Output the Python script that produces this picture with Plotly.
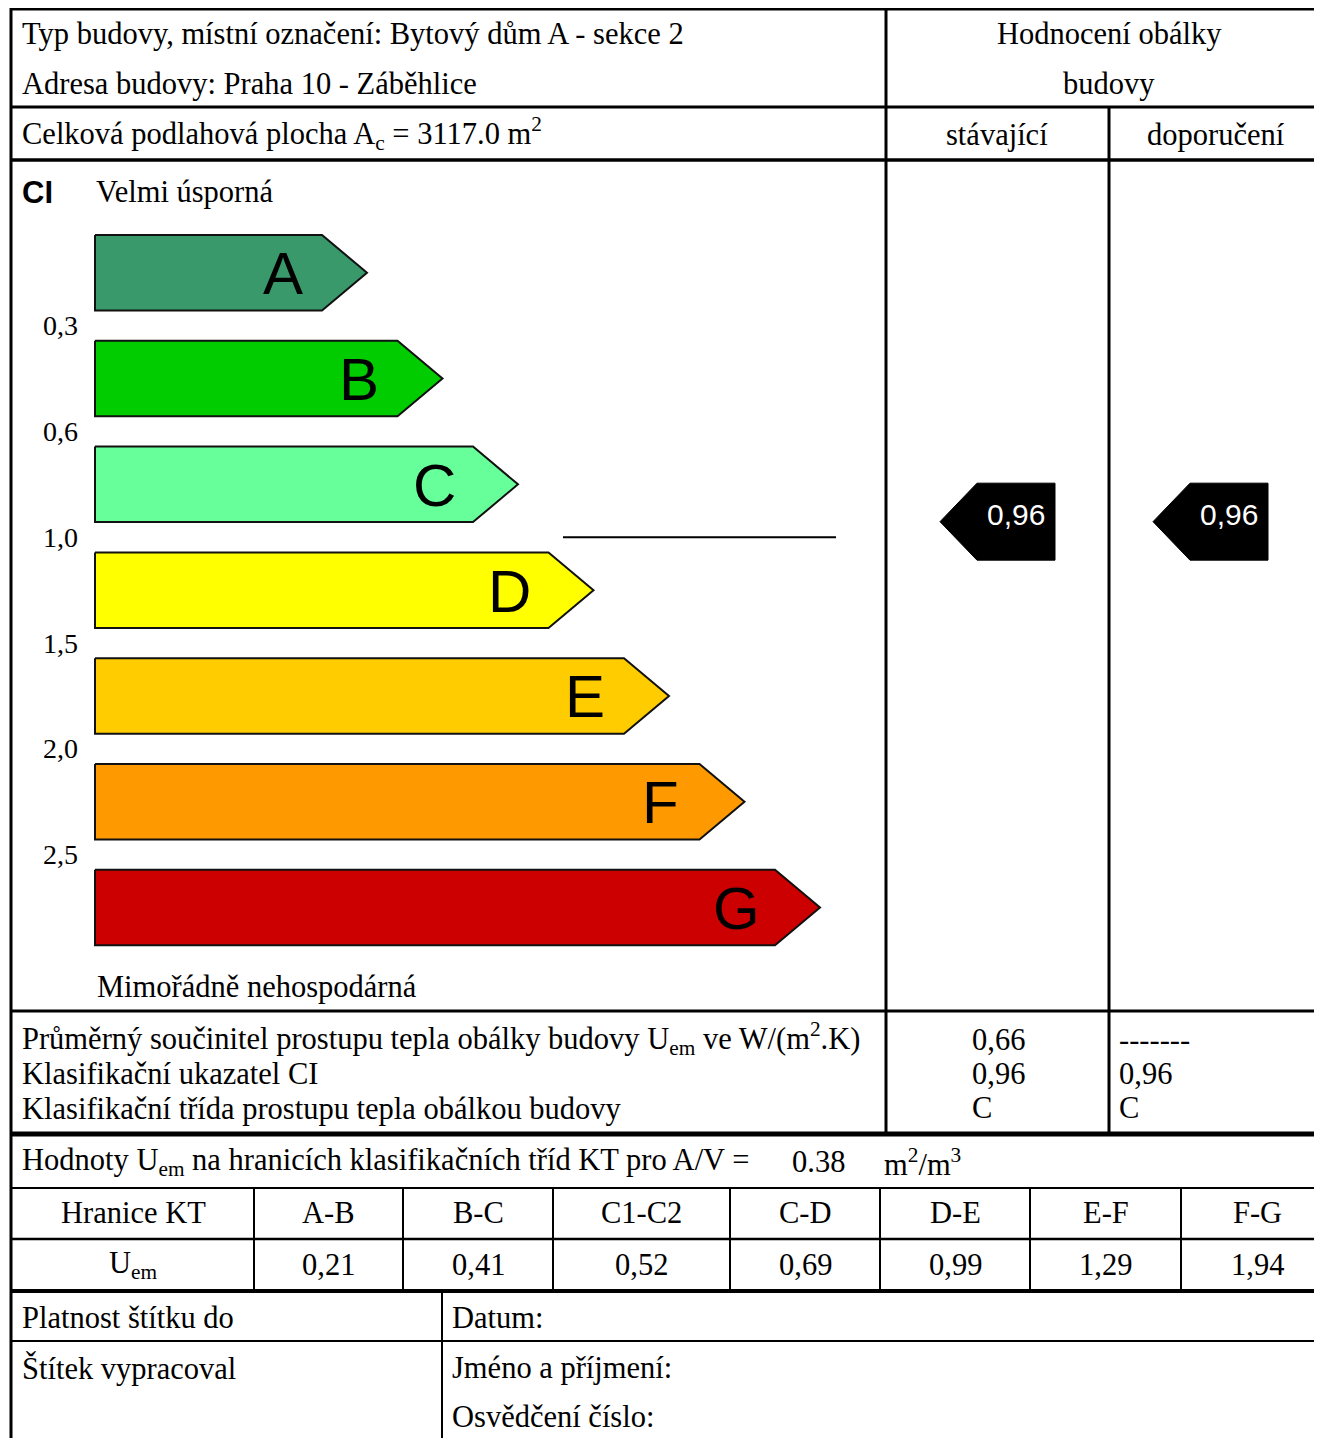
import plotly.graph_objects as go
import numpy as np

W, H = 1322, 1438
OFF = 8  # browser body margin; data coordinates = page pixels

# ---------------- data ----------------
building_type = "Bytový dům A - sekce 2"
address = "Praha 10 - Záběhlice"
floor_area = "3117.0"
classes = ["A", "B", "C", "D", "E", "F", "G"]
class_colors = ["#3A996B", "#00CC00", "#66FF99", "#FFFF00", "#FFCC00", "#FF9900", "#CC0000"]
ci_thresholds = [0.3, 0.6, 1.0, 1.5, 2.0, 2.5]
ci_threshold_labels = ["0,3", "0,6", "1,0", "1,5", "2,0", "2,5"]
ci_requirement = 1.0
column_headers = ["stávající", "doporučení"]
ci_values = [0.96, 0.96]
ci_value_labels = ["0,96", "0,96"]
uem_labels = ["0,66", "-------"]
class_results = ["C", "C"]
av_ratio = "0.38"
kt_boundaries = ["A-B", "B-C", "C1-C2", "C-D", "D-E", "E-F", "F-G"]
kt_uem = ["0,21", "0,41", "0,52", "0,69", "0,99", "1,29", "1,94"]

# ---------------- layout constants ----------------
SERIF = "Liberation Serif"
SANS = "Liberation Sans"
FS = 30.5
bar_x0, bar_top0, bar_pitch, bar_h = 95, 235, 105.8, 75.5
rect_end0, rect_step, tip_w = 322, 75.5, 45

fig = go.Figure()

# energy class bars
for i, (c, col) in enumerate(zip(classes, class_colors)):
    t = bar_top0 + i * bar_pitch
    b = t + bar_h
    re = rect_end0 + i * rect_step
    xs = [bar_x0, re, re + tip_w, re, bar_x0, bar_x0]
    ys = [t, t, (t + b) / 2, b, b, t]
    fig.add_trace(go.Scatter(x=xs, y=ys, mode="lines", fill="toself", fillcolor=col,
                             line=dict(color="#111111", width=2), hoverinfo="skip", showlegend=False))
    fig.add_annotation(x=re - 39, y=(t + b) / 2 + 1, text=c, showarrow=False,
                       font=dict(family=SANS, size=60, color="black"), xanchor="center", yanchor="middle")

# threshold labels
thr_y = [bar_top0 + i * bar_pitch + bar_h + (bar_pitch - bar_h) / 2 for i in range(len(ci_thresholds))]
for lab, y in zip(ci_threshold_labels, thr_y):
    fig.add_annotation(x=60, y=y, text=lab, showarrow=False,
                       font=dict(family=SERIF, size=28, color="black"), xanchor="center", yanchor="middle")

# requirement line
ry = float(np.interp(ci_requirement, ci_thresholds, thr_y))
fig.add_trace(go.Scatter(x=[563, 836], y=[ry, ry], mode="lines", line=dict(color="black", width=2),
                         hoverinfo="skip", showlegend=False))

# CI markers
marker_tip_x = [940, 1153]
for tx, v, lab in zip(marker_tip_x, ci_values, ci_value_labels):
    my = float(np.interp(v, ci_thresholds, thr_y)) - 5
    hh = 38.5
    xs = [tx, tx + 37, tx + 115, tx + 115, tx + 37, tx]
    ys = [my, my - hh, my - hh, my + hh, my + hh, my]
    fig.add_trace(go.Scatter(x=xs, y=ys, mode="lines", fill="toself", fillcolor="black",
                             line=dict(color="black", width=1), hoverinfo="skip", showlegend=False))
    fig.add_annotation(x=tx + 76, y=my - 7, text=lab, showarrow=False,
                       font=dict(family=SANS, size=30, color="white"), xanchor="center", yanchor="middle")

# ---------------- frame lines ----------------
def hline(y, x0, x1, w=3, color="black"):
    fig.add_shape(type="line", x0=x0, x1=x1, y0=y, y1=y, line=dict(color=color, width=w))

def vline(x, y0, y1, w=3):
    fig.add_shape(type="line", x0=x, x1=x, y0=y0, y1=y1, line=dict(color="black", width=w))

hline(9, 10, W + 5, 3)
vline(11, 8, H + 5, 3)
hline(107, 11, W + 5, 3)
hline(160, 11, W + 5, 3.5)
vline(886, 9, 1134, 3)
vline(1109, 107, 1134, 3)
hline(1011, 11, W + 5, 3)
hline(1134, 11, W + 5, 5)
hline(1188, 11, W + 5, 2)
hline(1239, 11, W + 5, 2.5)
hline(1291, 11, W + 5, 4)
kt_x = [254, 403, 553, 730, 880, 1030, 1181, 1333]
for x in kt_x[:-1]:
    vline(x, 1188, 1291, 2)
hline(1341, 11, W + 5, 2)
vline(442, 1291, H + 5, 2)

# ---------------- texts ----------------
def txt(x, y, s, anchor="left", size=FS, family=SERIF, bold=False):
    if bold:
        s = "<b>" + s + "</b>"
    fig.add_annotation(x=x, y=y, text=s, showarrow=False, xanchor=anchor, yanchor="middle",
                       font=dict(family=family, size=size, color="black"))

txt(20, 34, "Typ budovy, místní označení: " + building_type)
txt(20, 84, "Adresa budovy: " + address)
txt(20, 133, "Celková podlahová plocha A<sub>c</sub> = " + floor_area + " m<sup>2</sup>")
txt(1109, 34, "Hodnocení obálky", "center")
txt(1109, 84, "budovy", "center")
txt(997, 135, column_headers[0], "center")
txt(1216, 135, column_headers[1], "center")
txt(20, 192, "CI", size=31, family=SANS, bold=True)
txt(94, 192, "Velmi úsporná")
txt(95, 987, "Mimořádně nehospodárná")

txt(20, 1038, "Průměrný součinitel prostupu tepla obálky budovy U<sub>em</sub> ve W/(m<sup>2</sup>.K)")
txt(20, 1074, "Klasifikační ukazatel CI")
txt(20, 1109, "Klasifikační třída prostupu tepla obálkou budovy")
val_x = [970, 1117]
for x, u, ci, cl in zip(val_x, uem_labels, ci_value_labels, class_results):
    txt(x, 1040, u)
    txt(x, 1074, ci)
    txt(x, 1108, cl)

txt(20, 1162, "Hodnoty U<sub>em</sub> na hranicích klasifikačních tříd KT pro A/V =")
txt(790, 1162, av_ratio)
txt(882, 1162, "m<sup>2</sup>/m<sup>3</sup>")

txt(133, 1213, "Hranice KT", "center")
txt(133, 1265, "U<sub>em</sub>", "center")
for i, (b, u) in enumerate(zip(kt_boundaries, kt_uem)):
    cx = (kt_x[i] + kt_x[i + 1]) / 2
    txt(cx, 1213, b, "center")
    txt(cx, 1265, u, "center")

txt(20, 1318, "Platnost štítku do")
txt(450, 1318, "Datum:")
txt(20, 1368, "Štítek vypracoval")
txt(450, 1368, "Jméno a příjmení:")
txt(450, 1417, "Osvědčení číslo:")

fig.update_layout(
    width=W - OFF, height=H - OFF, margin=dict(l=0, r=0, t=0, b=0),
    paper_bgcolor="white", plot_bgcolor="white",
    xaxis=dict(range=[OFF, W], visible=False, fixedrange=True),
    yaxis=dict(range=[H, OFF], visible=False, fixedrange=True),
    showlegend=False,
)

fig.write_html("out.html", default_width=f"{W - OFF}px", default_height=f"{H - OFF}px")
